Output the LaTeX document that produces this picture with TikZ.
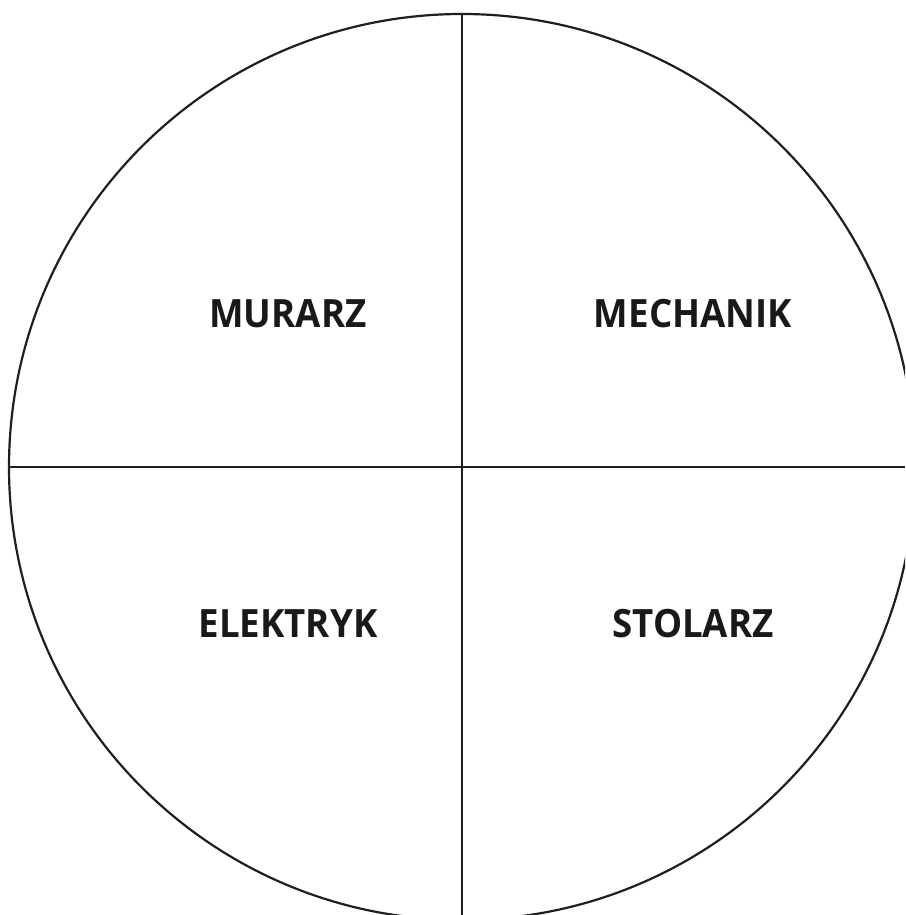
\documentclass[tikz,border=0pt]{standalone}
\usepackage{fontspec}
\setmainfont{Open Sans}
\begin{document}
\begin{tikzpicture}[x=1pt,y=-1pt,
  lbl/.style={font=\fontsize{39}{39}\selectfont\bfseries, text=black!90, inner sep=0pt, anchor=center, xscale=0.94},
  ln/.style={line width=2.2pt, draw=black!88}]
\useasboundingbox (0,0) rectangle (905,915);
\clip (0,0) rectangle (905,915);
\coordinate (c) at (462,467);
\draw[ln] (c) circle[radius=453];
\coordinate (t) at (462,14);
\coordinate (b) at (462,915);
\coordinate (l) at (9,467);
\coordinate (r) at (905,467);
\draw[ln] (t) -- (b);
\draw[ln] (l) -- (r);
\node[lbl] (m1) at (288,314) {MURARZ};
\node[lbl] (m2) at (693,314) {MECHANIK};
\node[lbl] (m3) at (288,624) {ELEKTRYK};
\node[lbl] (m4) at (693,624) {STOLARZ};
\end{tikzpicture}
\end{document}
